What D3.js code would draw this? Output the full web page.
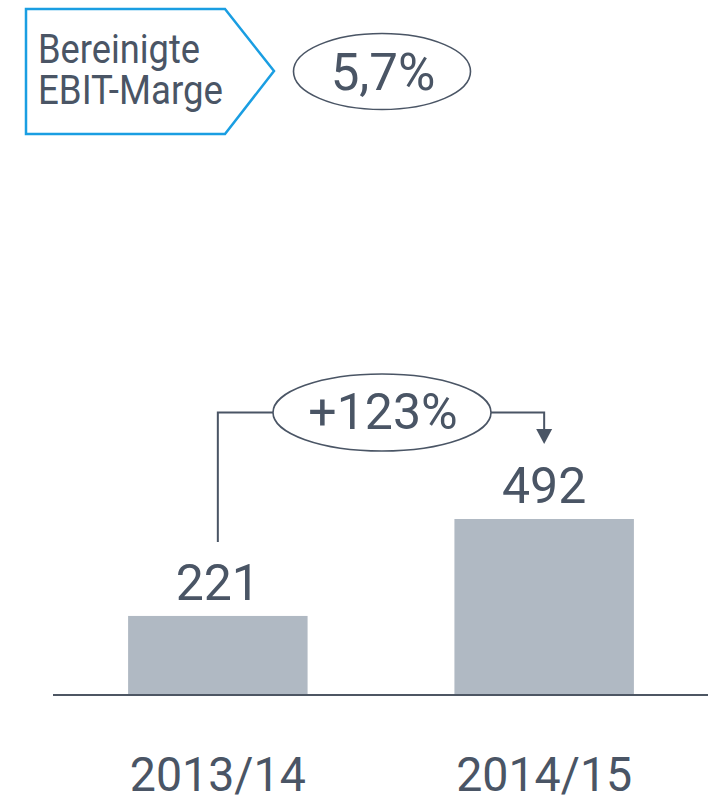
<!DOCTYPE html>
<html>
<head>
<meta charset="utf-8">
<script src="https://cdn.jsdelivr.net/npm/d3@7"></script>
<style>
  html, body { margin: 0; padding: 0; background: #fff; }
  svg { display: block; }
  text { font-family: Roboto, "Noto Sans", sans-serif; fill: #4a5565; }
</style>
</head>
<body>
<svg id="chart" width="726" height="798"></svg>
<script>
// chart data
var years = ["2013/14", "2014/15"];
var ebit = [221, 492];
var growthLabel = ["+123%"];
var marginTitle = ["Bereinigte", "EBIT-Marge"];
var marginValue = ["5,7%"];

var textCol = "#4a5565",
    barCol = "#b0b9c3",
    blue = "#1a9ee2";

var svg = d3.select("#chart");

// scales
var x = d3.scaleBand()
    .domain(years)
    .range([55, 707])
    .paddingInner(0.45)
    .paddingOuter(0.224);

var y = d3.scaleLinear()
    .domain([0, d3.max(ebit)])
    .range([695, 519]);

// header arrow box
var box = d3.path();
box.moveTo(26, 9);
box.lineTo(225, 9);
box.lineTo(274, 71);
box.lineTo(225, 134);
box.lineTo(26, 134);
box.closePath();
svg.append("path")
    .attr("d", box.toString())
    .attr("fill", "none")
    .attr("stroke", blue)
    .attr("stroke-width", 2.5);

var titleLen = [162, 185];
svg.selectAll("text.title")
    .data(marginTitle)
  .enter().append("text")
    .attr("class", "title")
    .attr("x", 38)
    .attr("y", function(d, i) { return 63 + i * 41; })
    .attr("font-size", 40)
    .attr("textLength", function(d, i) { return titleLen[i]; })
    .attr("lengthAdjust", "spacingAndGlyphs")
    .text(function(d) { return d; });

// margin value in ellipse
svg.append("ellipse")
    .attr("cx", 382).attr("cy", 71.5)
    .attr("rx", 88.5).attr("ry", 38)
    .attr("fill", "none")
    .attr("stroke", textCol)
    .attr("stroke-width", 1.6);
svg.append("text")
    .attr("x", 383).attr("y", 90)
    .attr("text-anchor", "middle")
    .attr("font-size", 51)
    .text(marginValue[0]);

// bars
svg.selectAll("rect.bar")
    .data(ebit)
  .enter().append("rect")
    .attr("class", "bar")
    .attr("x", function(d, i) { return x(years[i]); })
    .attr("y", function(d) { return y(d); })
    .attr("width", x.bandwidth())
    .attr("height", function(d) { return y(0) - y(d); })
    .attr("fill", barCol);

// baseline
svg.append("line")
    .attr("x1", 53).attr("x2", 708)
    .attr("y1", y(0)).attr("y2", y(0))
    .attr("stroke", "#4d5663")
    .attr("stroke-width", 2);

// value labels
svg.selectAll("text.val")
    .data(ebit)
  .enter().append("text")
    .attr("class", "val")
    .attr("x", function(d, i) { return x(years[i]) + x.bandwidth() / 2; })
    .attr("y", function(d) { return y(d) - 16; })
    .attr("text-anchor", "middle")
    .attr("font-size", 50)
    .text(function(d) { return d; });

// year labels
svg.selectAll("text.year")
    .data(years)
  .enter().append("text")
    .attr("class", "year")
    .attr("x", function(d) { return x(d) + x.bandwidth() / 2; })
    .attr("y", 791)
    .attr("text-anchor", "middle")
    .attr("font-size", 49)
    .attr("textLength", 176)
    .attr("lengthAdjust", "spacingAndGlyphs")
    .text(function(d) { return d; });

// growth connector
var cx0 = x(years[0]) + x.bandwidth() / 2,
    cx1 = x(years[1]) + x.bandwidth() / 2,
    lineY = 412.5,
    ex = 382, erx = 109, ery = 38.5;

svg.append("path")
    .attr("d", "M" + cx0 + "," + (y(ebit[0]) - 74) + "V" + lineY + "H" + (ex - erx))
    .attr("fill", "none")
    .attr("stroke", textCol)
    .attr("stroke-width", 2);

svg.append("path")
    .attr("d", "M" + (ex + erx) + "," + lineY + "H" + cx1 + "V" + (y(ebit[1]) - 89))
    .attr("fill", "none")
    .attr("stroke", textCol)
    .attr("stroke-width", 2);

var tip = y(ebit[1]) - 75;
svg.append("path")
    .attr("d", "M" + (cx1 - 8) + "," + (tip - 15) + "L" + (cx1 + 8) + "," + (tip - 15) + "L" + cx1 + "," + tip + "Z")
    .attr("fill", textCol);

svg.append("ellipse")
    .attr("cx", ex).attr("cy", lineY)
    .attr("rx", erx).attr("ry", ery)
    .attr("fill", "none")
    .attr("stroke", textCol)
    .attr("stroke-width", 1.6);

svg.append("text")
    .attr("x", ex + 1).attr("y", 429)
    .attr("text-anchor", "middle")
    .attr("font-size", 50)
    .text(growthLabel[0]);
</script>
</body>
</html>
